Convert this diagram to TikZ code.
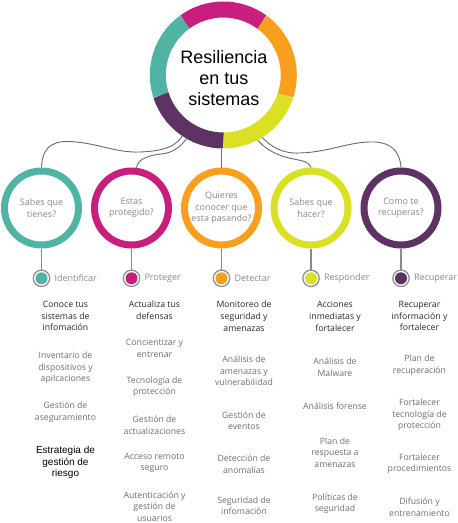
\documentclass[tikz,border=0pt]{standalone}
\usepackage{fontspec}
\setmainfont{Open Sans}
\newfontfamily\osans{Open Sans}
\newfontfamily\arial{Liberation Sans}
\definecolor{cteal}{HTML}{50B4A5}
\definecolor{cmag}{HTML}{C81E7D}
\definecolor{corange}{HTML}{F8A01E}
\definecolor{clime}{HTML}{DAE123}
\definecolor{cpurple}{HTML}{5F3264}
\definecolor{conngray}{HTML}{6A6A6A}
\definecolor{stemgray}{HTML}{8A8A8A}
\definecolor{circtext}{HTML}{8A8A8A}
\definecolor{itemgray}{HTML}{707070}
\definecolor{headgray}{HTML}{2A2A2A}
\tikzset{
  ringnode/.style={circle, minimum size=74pt, inner sep=0pt, line width=7pt, draw=#1, align=center,
    font=\osans\fontsize{9}{11.5}\selectfont, text=circtext},
  conn/.style={draw=conngray, line width=0.9pt},
  stemline/.style={draw=stemgray, line width=1.3pt},
  dotring/.style={circle, draw=stemgray, line width=1.2pt, minimum size=16.4pt, inner sep=0pt},
  lbl/.style={anchor=west, font=\osans\fontsize{9}{11}\selectfont, text=circtext, inner sep=0pt},
  item/.style={align=center, font=\osans\fontsize{8.7}{11.7}\selectfont, text=itemgray, inner sep=0pt},
  headitem/.style={item, text=headgray},
  seg/.style={line width=16pt, draw=#1},
}
\begin{document}
\begin{tikzpicture}[x=1pt,y=1pt]
\useasboundingbox (0,0) rectangle (458,-523);
\fill[white] (0,0) rectangle (458,-523);
% main ring
\node[circle, minimum size=147pt, inner sep=0pt] (main) at (223.3,-75) {};
\draw[seg=clime]   (223.3,-75) ++(-90:65.5) arc[start angle=-90, end angle=-18, radius=65.5];
\draw[seg=corange] (223.3,-75) ++(-18:65.5) arc[start angle=-18, end angle=54, radius=65.5];
\draw[seg=cmag]    (223.3,-75) ++(54:65.5) arc[start angle=54, end angle=126, radius=65.5];
\draw[seg=cteal]   (223.3,-75) ++(126:65.5) arc[start angle=126, end angle=198, radius=65.5];
\draw[seg=cpurple] (223.3,-75) ++(198:65.5) arc[start angle=198, end angle=270, radius=65.5];
\node[font=\arial\fontsize{18}{21}\selectfont, align=center, inner sep=0pt] (title) at (223.8,-78) {Resiliencia\\en tus\\sistemas};

% small circles
\node[ringnode=cteal]   (c1) at (41.5,-208)  {Sabes que\\tienes?};
\node[ringnode=cmag]    (c2) at (131.5,-208) {Estas\\protegido?};
\node[ringnode=corange] (c3) at (221.5,-208) {Quieres\\conocer que\\esta pasando?};
\node[ringnode=clime]   (c4) at (311,-208)   {Sabes que\\hacer?};
\node[ringnode=cpurple] (c5) at (401,-208)   {Como te\\recuperas?};

% connectors
\draw[conn] (c1.north) .. controls (42,-150) and (50,-141) .. (68,-141.5)
  .. controls (95,-142) and (115,-153) .. (140,-152)
  .. controls (165,-151) and (176,-146) .. (main.236);
\draw[conn] (c2.83) .. controls (138,-158) and (150,-155) .. (165,-153.5)
  .. controls (177,-151) and (183,-143) .. (main.240);
\draw[conn] (c3.north) -- (c3.north |- main.south);
\draw[conn] (main.298) .. controls (262,-146) and (272,-153) .. (285,-157)
  .. controls (300,-161) and (308,-160) .. (c4.north);
\draw[conn] (main.302) .. controls (270,-146) and (282,-154) .. (300,-153)
  .. controls (330,-152) and (350,-141) .. (375,-142)
  .. controls (392,-143) and (400,-152) .. (c5.north);

% label rings
\foreach \i/\x/\col/\txt in {1/41.5/cteal/Identificar, 2/131.5/cmag/Proteger, 3/221.5/corange/Detectar, 4/311/clime/Responder, 5/401/cpurple/Recuperar}{
  \node[dotring] (d\i) at (\x,-278.3) {};
  \fill[\col] (d\i.center) circle (6);
  \draw[stemline] (c\i.south) -- (d\i.north);
  \node[lbl] (l\i) at ([xshift=4pt]d\i.east) {\txt};
}

% column 1
\node[headitem] (a1) at (65.5,-316) {Conoce tus\\sistemas de\\infomación};
\node[item] (a2) at (65.5,-368) {Inventario de\\dispositivos y\\apilcaciones};
\node[item] (a3) at (65.5,-412.5) {Gestión de\\aseguramiento};
\node[align=center, inner sep=0pt, font=\arial\fontsize{10}{11.7}\selectfont, text=black] (a4) at (65.5,-462.7) {Estrategia de\\gestión de\\riesgo};
% column 2
\node[headitem] (b1) at (154.5,-310) {Actualiza tus\\defensas};
\node[item] (b2) at (154.5,-348.5) {Concientizar y\\entrenar};
\node[item] (b3) at (154.5,-386.7) {Tecnología de\\protección};
\node[item] (b4) at (154.5,-425) {Gestión de\\actualizaciones};
\node[item] (b5) at (154.5,-462.8) {Acceso remoto\\seguro};
\node[item] (b6) at (154.5,-506.7) {Autenticación y\\gestión de\\usuarios};
% column 3
\node[headitem] (e1) at (244,-316.2) {Monitoreo de\\seguridad y\\amenazas};
\node[item] (e2) at (244,-371) {Análisis de\\amenazas y\\vulnerabilidad};
\node[item] (e3) at (244,-420.8) {Gestión de\\eventos};
\node[item] (e4) at (244,-464) {Detección de\\anomalías};
\node[item] (e5) at (244,-505.8) {Seguridad de\\infomación};
% column 4
\node[headitem] (f1) at (335,-316.2) {Acciones\\inmediatas y\\fortalecer};
\node[item] (f2) at (335,-367.5) {Análisis de\\Malware};
\node[item] (f3) at (335,-406.7) {Análisis forense};
\node[item] (f4) at (335,-452.7) {Plan de\\respuesta a\\amenazas};
\node[item] (f5) at (335,-503.8) {Políticas de\\seguridad};
% column 5
\node[headitem] (g1) at (419.5,-316.2) {Recuperar\\información y\\fortalecer};
\node[item] (g2) at (419.5,-365.5) {Plan de\\recuperación};
\node[item] (g3) at (419.5,-415) {Fortalecer\\tecnología de\\protección};
\node[item] (g4) at (419.5,-463.8) {Fortalecer\\procedimientos};
\node[item] (g5) at (419.5,-507) {Difusión y\\entrenamiento};
\end{tikzpicture}
\end{document}
